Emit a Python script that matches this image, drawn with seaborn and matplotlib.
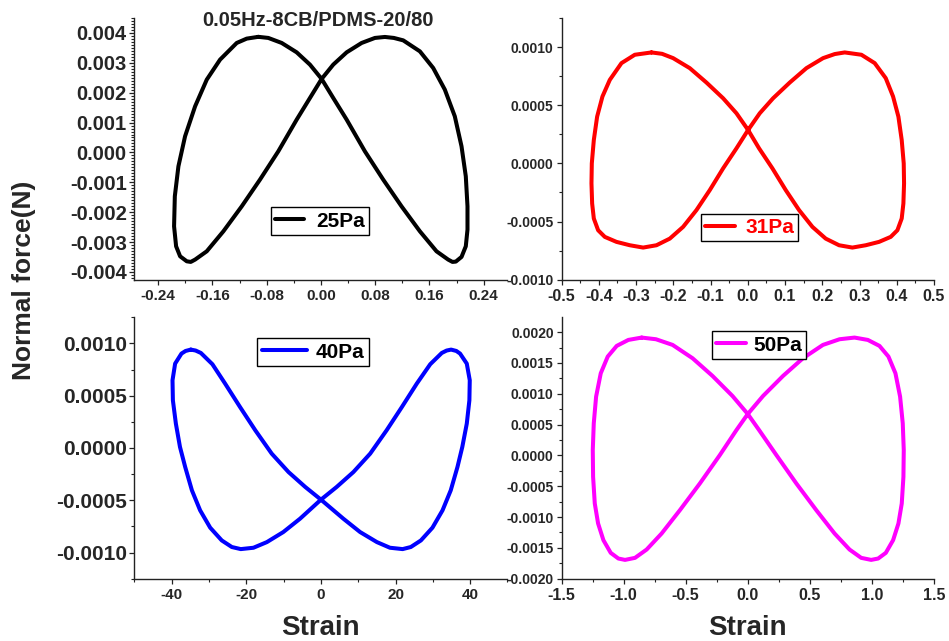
import matplotlib
matplotlib.use("Agg")
import matplotlib.pyplot as plt
import pandas as pd
import seaborn as sns
from matplotlib.ticker import FixedLocator, FixedFormatter, AutoMinorLocator

# ---------------- data ----------------
strain_25 = [-0.0924, -0.1095, -0.1242, -0.1488, -0.1684, -0.1856, -0.2004, -0.2102, -0.2155, -0.2166, -0.2136, -0.2077, -0.1979, -0.192,
             -0.1856, -0.1684, -0.1439, -0.1168, -0.0899, -0.0629, -0.0358, -0.0162, 0.001, 0.0181, 0.0379, 0.0600, 0.0796, 0.0943,
             0.1075, 0.1213, 0.1459, 0.1655, 0.1827, 0.1974, 0.2073, 0.2136, 0.2161, 0.2161, 0.2136, 0.2073, 0.1989, 0.194,
             0.1876, 0.1704, 0.1459, 0.1188, 0.0918, 0.0648, 0.0379, 0.0181, 0.001, -0.0162, -0.0358, -0.0579, -0.0776, -0.0924]
force_25 = [0.00387, 0.00381, 0.003665, 0.003106, 0.002437, 0.001543, 0.000539, -0.000465, -0.001469, -0.002474, -0.003143, -0.003478, -0.003645, -0.003666,
            -0.003588, -0.00331, -0.002641, -0.001804, -0.00091, 0.000037, 0.001098, 0.001824, 0.00246, 0.002939, 0.003351, 0.003665, 0.003833, 0.003866,
            0.003833, 0.003752, 0.003384, 0.002828, 0.002102, 0.001208, 0.000204, -0.0008, -0.001804, -0.002584, -0.003143, -0.003498, -0.003655, -0.003666,
            -0.003588, -0.00331, -0.002641, -0.001804, -0.00091, 0.000037, 0.001098, 0.001824, 0.00246, 0.002939, 0.003351, 0.003665, 0.003833, 0.00387]

strain_31 = [-0.2585, -0.3033, -0.3391, -0.3704, -0.3901, -0.4044, -0.4133, -0.4187, -0.4196, -0.4178, -0.4133, -0.4017, -0.3838, -0.3525, -0.3167, -0.2809,
             -0.2451, -0.2093, -0.1736, -0.1378, -0.1020, -0.0662, -0.0304, 0.0009, 0.0322, 0.0680, 0.1127, 0.1575, 0.2022, 0.2335, 0.2603,
             0.3051, 0.3408, 0.3704, 0.3901, 0.4044, 0.4133, 0.4187, 0.4196, 0.4178, 0.4133, 0.4017, 0.3838, 0.3525, 0.3167, 0.2809,
             0.2451, 0.2093, 0.1736, 0.1378, 0.1020, 0.0662, 0.0304, 0.0009, -0.0304, -0.0662, -0.1109, -0.1557, -0.2004, -0.2300, -0.2585]
force_31 = [0.000954, 0.000934, 0.000862, 0.000718, 0.000575, 0.000402, 0.000201, 0.0, -0.000172, -0.000345, -0.000474, -0.000575, -0.000632, -0.000675, -0.000704, -0.000724,
            -0.000704, -0.000647, -0.000546, -0.000402, -0.00023, -0.000043, 0.000129, 0.000287, 0.000431, 0.00056, 0.000695, 0.000819, 0.000905, 0.000940, 0.000954,
            0.000934, 0.000862, 0.000733, 0.000575, 0.000402, 0.000201, 0.0, -0.000172, -0.000345, -0.000474, -0.000575, -0.000632, -0.000675, -0.000704, -0.000724,
            -0.000704, -0.000647, -0.000546, -0.000402, -0.00023, -0.000043, 0.000129, 0.000287, 0.000431, 0.00056, 0.000695, 0.000819, 0.000905, 0.000942, 0.000954]

strain_40 = [-34.9, -36.3, -37.4, -39.1, -39.8, -39.7, -38.9, -37.8, -36.4, -34.6, -32.4, -29.7, -26.6, -23.9, -21.5,
             -18.1, -14.5, -10.1, -5.6, 0.0, 4.2, 8.7, 13.2, 17.6, 21.7, 25.7, 29.3, 32.4, 33.7, 34.9,
             36.3, 37.3, 39.1, 39.9, 39.8, 39.1, 37.9, 36.6, 34.8, 32.6, 29.9, 26.8, 24.1, 21.9,
             18.5, 15.0, 10.5, 6.0, 0.0, -4.2, -8.7, -13.2, -17.6, -21.7, -25.7, -29.1, -32.2, -33.6, -34.9]
force_40 = [0.000941, 0.000928, 0.000903, 0.000807, 0.000648, 0.000456, 0.000233, 0.00001, -0.000182, -0.000405, -0.000596, -0.000762, -0.000884, -0.000947, -0.000967,
            -0.000954, -0.0009, -0.000804, -0.000676, -0.000494, -0.000373, -0.00023, -0.000054, 0.000169, 0.000392, 0.000616, 0.000801, 0.000909, 0.000932, 0.000941,
            0.000928, 0.000903, 0.000807, 0.000648, 0.000456, 0.000233, 0.00001, -0.000182, -0.000405, -0.000596, -0.000762, -0.000884, -0.000947, -0.000967,
            -0.000954, -0.0009, -0.000804, -0.000676, -0.000494, -0.000373, -0.00023, -0.000054, 0.000169, 0.000392, 0.000616, 0.000801, 0.000909, 0.000932, 0.000941]

strain_50 = [-0.8545, -0.9617, -1.0555, -1.1278, -1.1840, -1.2215, -1.2403, -1.2483, -1.2457, -1.2322, -1.2055, -1.1626, -1.1037, -1.0421, -0.9885,
             -0.9081, -0.8144, -0.6938, -0.5465, -0.3857, -0.2250, -0.0911, 0.0, 0.1232, 0.2840, 0.4447, 0.6054, 0.7394, 0.8599,
             0.9671, 1.0608, 1.1331, 1.1894, 1.2269, 1.2483, 1.2564, 1.2537, 1.2403, 1.2135, 1.1706, 1.1117, 1.0501, 0.9938,
             0.9135, 0.8197, 0.6992, 0.5518, 0.3911, 0.2304, 0.0911, 0.0, -0.1232, -0.2840, -0.4447, -0.6054, -0.7394, -0.8545]
force_50 = [0.001911, 0.001873, 0.001776, 0.001603, 0.001332, 0.000953, 0.00052, 0.000087, -0.000347, -0.00078, -0.001104, -0.001375, -0.001581, -0.001673, -0.001695,
            -0.001662, -0.001527, -0.001267, -0.000888, -0.000455, 0.000005, 0.000411, 0.000671, 0.000964, 0.001289, 0.001576, 0.001792, 0.001884, 0.001911,
            0.001873, 0.001776, 0.001603, 0.001332, 0.000953, 0.00052, 0.000087, -0.000347, -0.00078, -0.001104, -0.001375, -0.001581, -0.001673, -0.001695,
            -0.001662, -0.001527, -0.001267, -0.000888, -0.000455, 0.000005, 0.000411, 0.000671, 0.000964, 0.001289, 0.001576, 0.001792, 0.001884, 0.001911]

series_labels = ["25Pa", "31Pa", "40Pa", "50Pa"]

xticks_25 = [-0.24, -0.16, -0.08, 0.00, 0.08, 0.16, 0.24]
xticklabels_25 = ["-0.24", "-0.16", "-0.08", "0.00", "0.08", "0.16", "0.24"]
yticks_25 = [-0.004, -0.003, -0.002, -0.001, 0.0, 0.001, 0.002, 0.003, 0.004]
yticklabels_25 = ["-0.004", "-0.003", "-0.002", "-0.001", "0.000", "0.001", "0.002", "0.003", "0.004"]

xticks_31 = [-0.5, -0.4, -0.3, -0.2, -0.1, 0.0, 0.1, 0.2, 0.3, 0.4, 0.5]
xticklabels_31 = ["-0.5", "-0.4", "-0.3", "-0.2", "-0.1", "0.0", "0.1", "0.2", "0.3", "0.4", "0.5"]
yticks_31 = [-0.0010, -0.0005, 0.0, 0.0005, 0.0010]
yticklabels_31 = ["-0.0010", "-0.0005", "0.0000", "0.0005", "0.0010"]

xticks_40 = [-40, -20, 0, 20, 40]
xticklabels_40 = ["-40", "-20", "0", "20", "40"]
yticks_40 = [-0.0010, -0.0005, 0.0, 0.0005, 0.0010]
yticklabels_40 = ["-0.0010", "-0.0005", "0.0000", "0.0005", "0.0010"]

xticks_50 = [-1.5, -1.0, -0.5, 0.0, 0.5, 1.0, 1.5]
xticklabels_50 = ["-1.5", "-1.0", "-0.5", "0.0", "0.5", "1.0", "1.5"]
yticks_50 = [-0.0020, -0.0015, -0.0010, -0.0005, 0.0, 0.0005, 0.0010, 0.0015, 0.0020]
yticklabels_50 = ["-0.0020", "-0.0015", "-0.0010", "-0.0005", "0.0000", "0.0005", "0.0010", "0.0015", "0.0020"]

title_text = "0.05Hz-8CB/PDMS-20/80"
ylabel_text = "Normal force(N)"
xlabel_text = "Strain"

# ---------------- style ----------------
sns.set_style("ticks")
plt.rcParams["font.family"] = ["Liberation Sans", "DejaVu Sans"]
plt.rcParams["font.weight"] = "bold"
plt.rcParams["axes.unicode_minus"] = False

fig = plt.figure(figsize=(9.49, 6.41), dpi=100)

panels = [
    dict(pos=[0.1417, 0.5637, 0.3930, 0.4082], x=strain_25, y=force_25, color="#000000", label=series_labels[0],
         xlim=(-0.275, 0.275), ylim=(-0.00426, 0.0045), xt=xticks_25, xtl=xticklabels_25, yt=yticks_25, ytl=yticklabels_25,
         xfs=11, yfs=14.5, yminor=10, leg=(0.497, 0.224), hl=1.4, htp=0.55, legcol="black", xlabel=False),
    dict(pos=[0.5917, 0.5637, 0.3925, 0.4082], x=strain_31, y=force_31, color="#FF0000", label=series_labels[1],
         xlim=(-0.5, 0.5), ylim=(-0.001, 0.00125), xt=xticks_31, xtl=xticklabels_31, yt=yticks_31, ytl=yticklabels_31,
         xfs=11.5, yfs=10, yminor=2, leg=(0.505, 0.199), hl=1.45, htp=0.48, legcol="#FF0000", xlabel=False),
    dict(pos=[0.1417, 0.0972, 0.3930, 0.4078], x=strain_40, y=force_40, color="#0000FF", label=series_labels[2],
         xlim=(-50, 50), ylim=(-0.00125, 0.00125), xt=xticks_40, xtl=xticklabels_40, yt=yticks_40, ytl=yticklabels_40,
         xfs=11, yfs=15, yminor=2, leg=(0.4786, 0.867), hl=2.2, htp=0.4, legcol="black", xlabel=True),
    dict(pos=[0.5917, 0.0972, 0.3925, 0.4078], x=strain_50, y=force_50, color="#FF00FF", label=series_labels[3],
         xlim=(-1.5, 1.5), ylim=(-0.002, 0.00224), xt=xticks_50, xtl=xticklabels_50, yt=yticks_50, ytl=yticklabels_50,
         xfs=11.5, yfs=10, yminor=2, leg=(0.530, 0.894), hl=1.45, htp=0.34, legcol="black", xlabel=True),
]

for p in panels:
    ax = fig.add_axes(p["pos"])
    df = pd.DataFrame({"Strain": p["x"], "Force": p["y"]})
    sns.lineplot(data=df, x="Strain", y="Force", sort=False, estimator=None, color=p["color"],
                 linewidth=2.9, label=p["label"], ax=ax, solid_joinstyle="round", solid_capstyle="round")
    ax.set_xlim(*p["xlim"])
    ax.set_ylim(*p["ylim"])
    ax.xaxis.set_major_locator(FixedLocator(p["xt"]))
    ax.xaxis.set_major_formatter(FixedFormatter(p["xtl"]))
    ax.yaxis.set_major_locator(FixedLocator(p["yt"]))
    ax.yaxis.set_major_formatter(FixedFormatter(p["ytl"]))
    ax.xaxis.set_minor_locator(AutoMinorLocator(2))
    ax.yaxis.set_minor_locator(AutoMinorLocator(p["yminor"]))
    ax.set_xlabel("")
    ax.set_ylabel("")
    sns.despine(ax=ax)
    for s in ("left", "bottom"):
        ax.spines[s].set_linewidth(1.0)
        ax.spines[s].set_color("#222222")
    ax.tick_params(axis="both", which="major", direction="out", length=3.6, width=0.9, color="#222222")
    ax.tick_params(axis="both", which="minor", direction="out", length=2.2, width=0.8, color="#222222")
    ax.tick_params(axis="x", which="major", labelsize=p["xfs"], pad=3)
    ax.tick_params(axis="y", which="major", labelsize=p["yfs"], pad=2)
    for t in ax.get_xticklabels() + ax.get_yticklabels():
        t.set_fontweight("bold")
    ax.patch.set_alpha(0)

    leg = ax.legend(loc="center", bbox_to_anchor=p["leg"], frameon=True, fancybox=False,
                    edgecolor="black", framealpha=1, borderpad=0.2, borderaxespad=0,
                    handlelength=p["hl"], handletextpad=p["htp"],
                    prop=dict(family="Liberation Sans", weight="bold", size=15))
    leg.get_frame().set_linewidth(1.0)
    for t in leg.get_texts():
        t.set_color(p["legcol"])

    if p["xlabel"]:
        ax.set_xlabel(xlabel_text, fontsize=20, fontweight="bold")
        ax.xaxis.set_label_coords(0.5, -0.138)
        ax.xaxis.label.set_verticalalignment("top")

fig.text(318 / 949, 1 - 20.5 / 641, title_text, ha="center", va="center", fontsize=14.5, fontweight="bold")
fig.text(24 / 949, 1 - 280 / 641, ylabel_text, ha="center", va="center", rotation=90, fontsize=19, fontweight="bold")

fig.savefig("out.png", dpi=100)
